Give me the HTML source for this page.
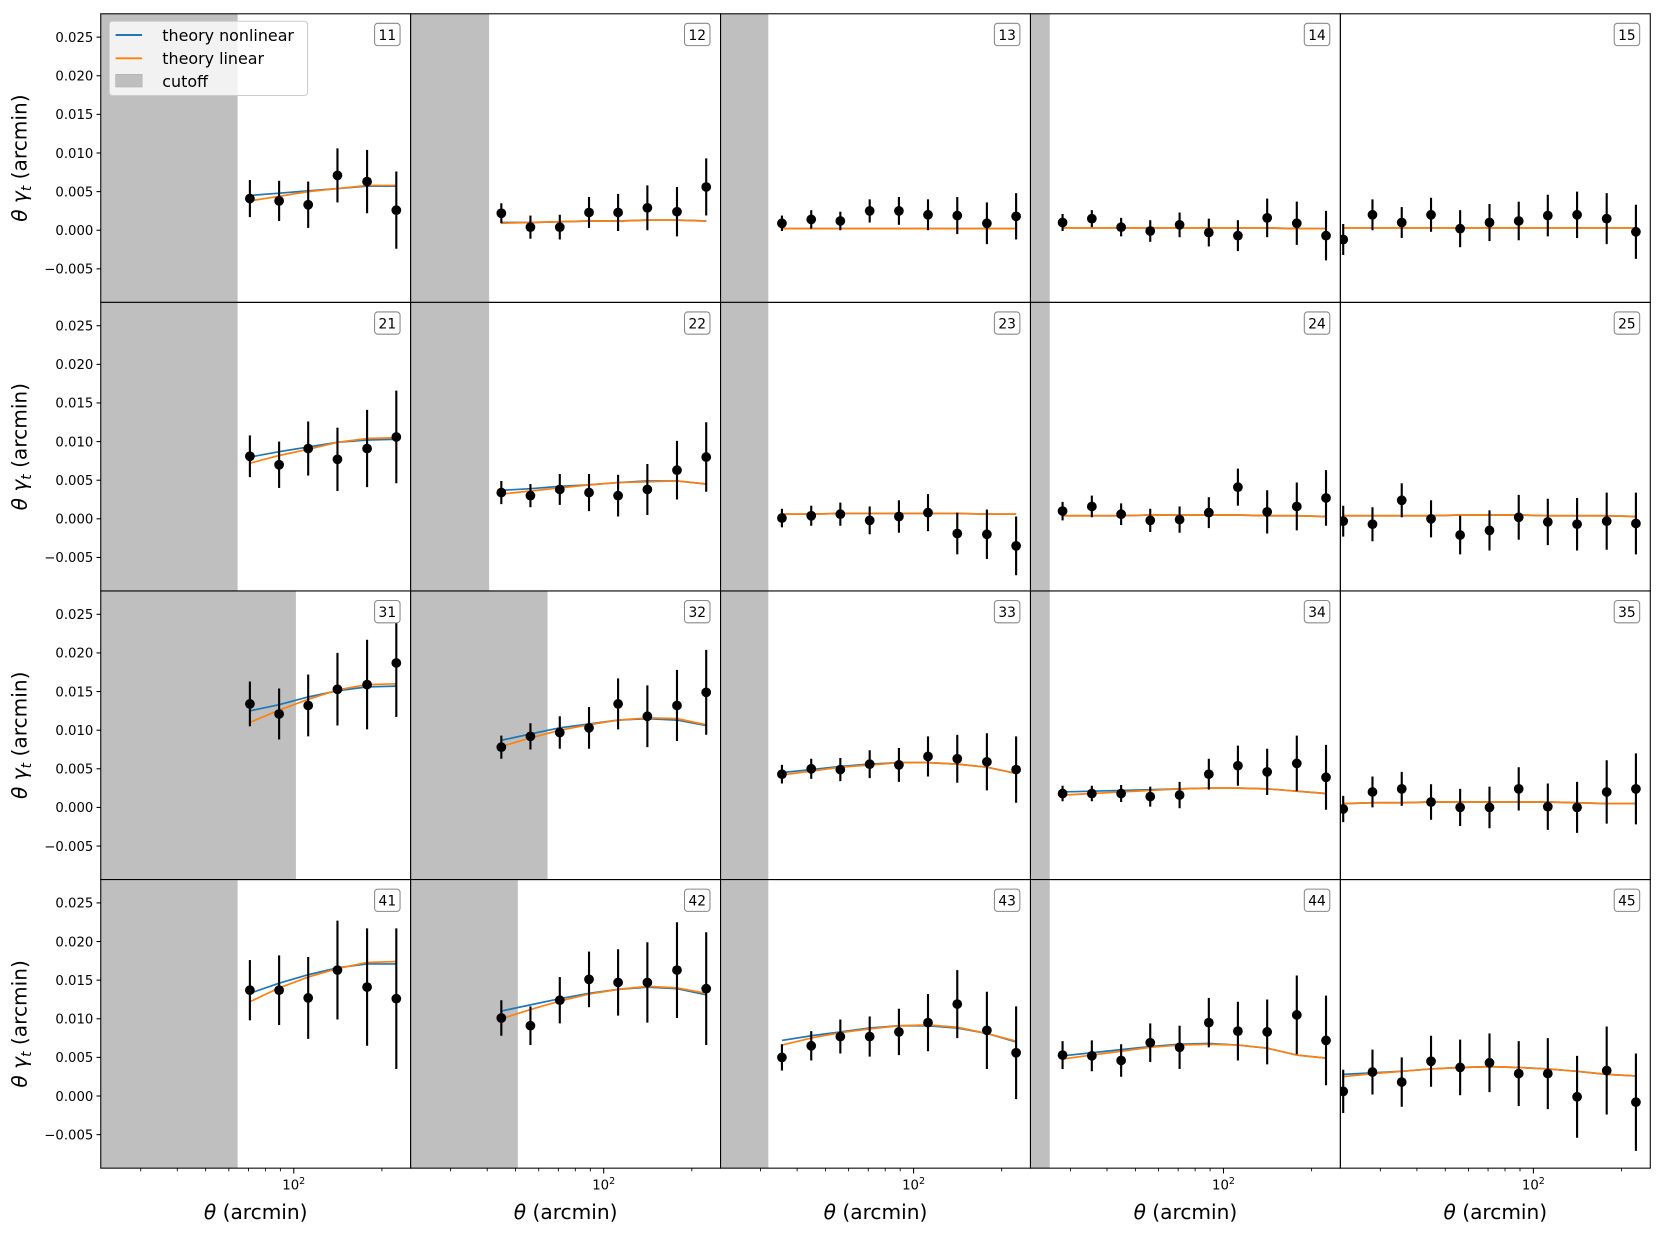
<!DOCTYPE html>
<html><head><meta charset="utf-8"><style>
html,body{margin:0;padding:0;background:#fff;}
svg{display:block;font-family:"DejaVu Sans","Liberation Sans",sans-serif;}
</style></head><body>
<svg id="chart" xmlns="http://www.w3.org/2000/svg" width="1663" height="1235" viewBox="0 0 1568 1164" preserveAspectRatio="none"></svg>
<script>
const thetaBins = [22.4,28.2,35.5,44.7,56.2,70.8,89.1,112,141,178,224];
const colStart = [5,3,2,1,0];
const panelLabels = ['11','12','13','14','15','21','22','23','24','25','31','32','33','34','35','41','42','43','44','45'];
const cutoffs = [64.3,40.6,31.9,25.5,0, 64.3,40.6,31.9,25.5,0, 101.7,64.3,31.9,25.5,0, 64.3,50.9,31.9,25.5,0];
const yTicks = [-0.005,0,0.005,0.010,0.015,0.020,0.025];
const yTickLabels = ['\u22120.005','0.000','0.005','0.010','0.015','0.020','0.025'];
// values in units of 1e-3
const pointValues = [
[4.1,3.8,3.3,7.1,6.3,2.6],
[2.2,0.4,0.4,2.3,2.3,2.9,2.4,5.6],
[0.9,1.4,1.2,2.5,2.5,2.0,1.9,0.9,1.8],
[1.0,1.5,0.4,-0.1,0.7,-0.3,-0.7,1.6,0.9,-0.7],
[-1.2,2.0,1.0,2.0,0.2,1.0,1.2,1.9,2.0,1.5,-0.2],
[8.1,7.0,9.1,7.7,9.1,10.6],
[3.4,3.0,3.8,3.4,3.0,3.8,6.3,8.0],
[0.1,0.4,0.6,-0.2,0.3,0.8,-1.9,-2.0,-3.5],
[1.0,1.6,0.6,-0.2,-0.1,0.8,4.1,0.9,1.6,2.7],
[-0.3,-0.7,2.4,0.0,-2.1,-1.5,0.2,-0.4,-0.7,-0.3,-0.6],
[13.4,12.1,13.2,15.3,15.9,18.7],
[7.8,9.2,9.7,10.3,13.4,11.8,13.2,14.9],
[4.3,5.0,4.9,5.6,5.5,6.6,6.3,5.9,4.9],
[1.8,1.8,1.8,1.4,1.6,4.3,5.4,4.6,5.7,3.9],
[-0.2,2.0,2.4,0.7,0.0,0.0,2.4,0.1,0.0,2.0,2.4],
[13.7,13.7,12.7,16.3,14.1,12.6],
[10.1,9.1,12.4,15.1,14.7,14.7,16.3,13.9],
[5.0,6.5,7.7,7.7,8.3,9.5,11.9,8.5,5.6],
[5.3,5.2,4.6,6.9,6.3,9.5,8.4,8.3,10.5,7.2],
[0.6,3.1,1.8,4.5,3.7,4.3,2.9,2.9,-0.1,3.3,-0.8]];
const errorValues = [
[2.4,2.6,3.0,3.5,4.1,5.0],
[1.3,1.5,1.6,2.0,2.4,2.9,3.2,3.7],
[1.0,1.2,1.2,1.5,1.8,2.0,2.4,2.7,3.0],
[1.1,1.1,1.2,1.4,1.6,1.8,2.0,2.5,2.8,3.2],
[2.0,2.0,2.0,2.2,2.4,2.4,2.5,2.7,3.0,3.3,3.5],
[2.7,3.0,3.5,4.1,5.0,6.0],
[1.5,1.5,2.0,2.4,2.7,3.3,3.8,4.5],
[1.2,1.3,1.5,1.8,2.1,2.4,2.7,3.2,3.8],
[1.2,1.4,1.4,1.5,1.7,2.0,2.4,2.8,3.1,3.6],
[2.0,2.2,2.2,2.4,2.5,2.6,2.9,3.0,3.4,3.7,4.0],
[2.9,3.3,4.0,4.7,5.8,7.0],
[1.5,1.7,2.1,2.7,3.3,4.0,4.6,5.5],
[1.2,1.3,1.5,1.8,2.2,2.6,3.1,3.7,4.3],
[1.0,1.0,1.1,1.3,1.7,2.0,2.6,3.0,3.6,4.2],
[1.7,2.0,2.2,2.3,2.4,2.7,2.8,3.0,3.3,4.1,4.6],
[3.9,4.5,5.3,6.4,7.6,9.1],
[2.3,2.5,3.0,3.6,4.3,5.2,6.2,7.3],
[1.7,1.9,2.2,2.6,3.0,3.7,4.4,5.0,6.0],
[1.8,2.0,2.1,2.5,2.8,3.2,3.8,4.2,5.1,5.8],
[2.8,2.9,3.2,3.3,3.6,3.8,4.2,4.6,5.3,5.7,6.3]];
const theoryNonlinear = [
[4.5,4.8,5.1,5.4,5.7,5.7],
[1.0,1.0,1.1,1.2,1.2,1.3,1.3,1.2],
[0.2,0.2,0.2,0.2,0.2,0.2,0.2,0.2,0.2],
[0.3,0.3,0.3,0.3,0.3,0.3,0.3,0.3,0.2,0.2],
[0.3,0.3,0.3,0.3,0.3,0.3,0.3,0.3,0.3,0.3,0.3],
[8.0,8.7,9.3,9.9,10.2,10.3],
[3.7,3.9,4.2,4.4,4.7,4.9,4.9,4.5],
[0.6,0.6,0.7,0.7,0.7,0.7,0.7,0.6,0.6],
[0.4,0.4,0.4,0.5,0.5,0.5,0.5,0.4,0.4,0.3],
[0.4,0.4,0.4,0.4,0.5,0.5,0.5,0.4,0.4,0.4,0.3],
[12.5,13.3,14.3,15.1,15.6,15.7],
[8.7,9.5,10.3,10.8,11.3,11.5,11.3,10.6],
[4.5,4.9,5.3,5.6,5.8,5.8,5.6,5.2,4.4],
[2.0,2.1,2.2,2.3,2.4,2.5,2.5,2.4,2.1,1.8],
[0.5,0.6,0.6,0.7,0.7,0.7,0.7,0.7,0.6,0.5,0.5],
[13.3,14.6,15.7,16.6,17.1,17.1],
[11.0,11.8,12.6,13.3,13.8,14.1,13.9,13.1],
[7.2,7.8,8.3,8.8,9.1,9.1,8.8,8.1,7.0],
[5.2,5.6,6.0,6.4,6.7,6.8,6.6,6.2,5.3,4.9],
[2.8,3.0,3.2,3.5,3.7,3.8,3.7,3.5,3.2,2.8,2.6]];
const theoryLinear = [
[3.8,4.4,5.0,5.4,5.8,5.8],
[0.9,1.0,1.1,1.2,1.2,1.3,1.3,1.2],
[0.2,0.2,0.2,0.2,0.2,0.2,0.2,0.2,0.2],
[0.3,0.3,0.3,0.3,0.3,0.3,0.3,0.3,0.2,0.2],
[0.3,0.3,0.3,0.3,0.3,0.3,0.3,0.3,0.3,0.3,0.3],
[7.2,8.2,9.0,9.9,10.4,10.5],
[3.2,3.6,4.0,4.4,4.7,4.8,4.9,4.5],
[0.6,0.6,0.7,0.7,0.7,0.7,0.7,0.6,0.6],
[0.4,0.4,0.4,0.5,0.5,0.5,0.5,0.4,0.4,0.3],
[0.4,0.4,0.4,0.4,0.5,0.5,0.5,0.4,0.4,0.4,0.3],
[11.0,12.6,14.0,15.2,15.9,16.0],
[7.9,9.0,10.0,10.7,11.3,11.6,11.5,10.7],
[4.2,4.7,5.2,5.5,5.8,5.8,5.6,5.2,4.4],
[1.6,1.8,2.0,2.2,2.4,2.5,2.5,2.4,2.1,1.8],
[0.5,0.6,0.6,0.7,0.7,0.7,0.7,0.7,0.6,0.5,0.5],
[12.2,14.0,15.4,16.5,17.3,17.4],
[10.0,11.2,12.3,13.2,13.8,14.2,14.0,13.3],
[6.6,7.5,8.2,8.7,9.1,9.2,8.9,8.1,7.1],
[4.8,5.3,5.8,6.3,6.6,6.7,6.6,6.2,5.3,4.9],
[2.5,2.9,3.2,3.5,3.7,3.8,3.7,3.5,3.2,2.8,2.6]];
const minorTicks = [30,40,50,60,70,80,90,200];

const NS='http://www.w3.org/2000/svg';
const svg=document.getElementById('chart');
const L0=95, PW=292.2, T0=13, PH=272;
function el(tag,attrs,parent){const e=document.createElementNS(NS,tag);for(const k in attrs)e.setAttribute(k,attrs[k]);(parent||svg).appendChild(e);return e;}
function xs(col,t){return L0+col*PW+182+(Math.log10(t)-2)*276;}
function ys(row,v){return T0+row*PH+204-v*7280;}

for(let p=0;p<20;p++){
  const row=Math.floor(p/5), col=p%5;
  const left=L0+col*PW, top=T0+row*PH;
  const g=el('g',{});
  
  
  const cp='clip'+p;
  const cl=el('clipPath',{id:cp},g); el('rect',{x:left,y:top,width:PW,height:PH},cl);
  const inner=el('g',{'clip-path':'url(#'+cp+')'},g);
  if(cutoffs[p]>0){
    const r=el('rect',{x:left,y:top,width:Math.max(0,xs(col,cutoffs[p])-left),height:PH,fill:'#bfbfbf'},inner);
    
    
  }
  const s=colStart[col];
  const pts=(arr)=>arr.map((v,i)=>xs(col,thetaBins[s+i]).toFixed(1)+','+ys(row,v/1000).toFixed(1)).join(' ');
  const nl=el('polyline',{points:pts(theoryNonlinear[p]),fill:'none',stroke:'#1f77b4','stroke-width':1.6},inner);
  
  
  const li=el('polyline',{points:pts(theoryLinear[p]),fill:'none',stroke:'#ff7f0e','stroke-width':1.6},inner);
  
  
  pointValues[p].forEach((v,i)=>{
    const x=xs(col,thetaBins[s+i]), e=errorValues[p][i];
    const eb=el('line',{x1:x,x2:x,y1:ys(row,(v+e)/1000),y2:ys(row,(v-e)/1000),stroke:'#000','stroke-width':2},inner);
    
    
    const c=el('circle',{cx:x,cy:ys(row,v/1000),r:4.6,fill:'#000'},inner);
    
    
  });
  const fr=el('rect',{x:left,y:top,width:PW,height:PH,fill:'none',stroke:'#000','stroke-width':1},g);
  
  
  // panel label box
  const lb=el('g',{},g);
  
  
  el('rect',{x:left+PW-34,y:top+9,width:24,height:21,rx:3,fill:'#fff',stroke:'#888','stroke-width':1},lb);
  const t=el('text',{x:left+PW-22,y:top+24.5,'text-anchor':'middle','font-size':13},lb); t.textContent=panelLabels[p];
  if(col===0){
    yTicks.forEach((v,i)=>{
      const y=ys(row,v);
      const tk=el('line',{x1:left-4,x2:left,y1:y,y2:y,stroke:'#000','stroke-width':1},g);
      
      
      const tl=el('text',{x:left-7,y:y+4.5,'text-anchor':'end','font-size':12.5},g);
      
      
      tl.textContent=yTickLabels[i];
    });
    const yl=el('text',{x:0,y:0,'font-size':19,'text-anchor':'middle',transform:'translate(25,'+(top+PH/2)+') rotate(-90)'},g);
    
    
    yl.innerHTML='<tspan font-style="italic">θ γ</tspan><tspan font-style="italic" font-size="13" dy="4">t</tspan><tspan dy="-4">  (arcmin)</tspan>';
  }
  if(row===3){
    const by=top+PH;
    const mj=el('line',{x1:xs(col,100),x2:xs(col,100),y1:by,y2:by+5,stroke:'#000','stroke-width':1},g);
    
    
    minorTicks.forEach(t=>{
      const m=el('line',{x1:xs(col,t),x2:xs(col,t),y1:by,y2:by+3,stroke:'#000','stroke-width':0.8},g);
      
      
    });
    const xl=el('text',{x:xs(col,100),y:by+20,'text-anchor':'middle','font-size':12.5},g);
    
    
    xl.innerHTML='10<tspan font-size="9" dy="-5">2</tspan>';
    const xt=el('text',{x:left+PW/2,y:by+48,'text-anchor':'middle','font-size':19},g);
    
    
    xt.innerHTML='<tspan font-style="italic">θ</tspan> (arcmin)';
  }
}
// legend
const lg=el('g',{});


el('rect',{x:103,y:20,width:187,height:70,rx:3,fill:'#fff','fill-opacity':0.8,stroke:'#ccc','stroke-width':1},lg);
const e1=el('g',{},lg);


el('line',{x1:109,x2:134,y1:33,y2:33,stroke:'#1f77b4','stroke-width':1.8},e1);
el('text',{x:153,y:38.5,'font-size':15},e1).textContent='theory nonlinear';
const e2=el('g',{},lg);


el('line',{x1:109,x2:134,y1:55,y2:55,stroke:'#ff7f0e','stroke-width':1.8},e2);
el('text',{x:153,y:60.5,'font-size':15},e2).textContent='theory linear';
const e3=el('g',{},lg);


el('rect',{x:109,y:70,width:25,height:12,fill:'#bfbfbf',stroke:'#aaa','stroke-width':0.5},e3);
el('text',{x:153,y:82,'font-size':15},e3).textContent='cutoff';
</script>
</body></html>
